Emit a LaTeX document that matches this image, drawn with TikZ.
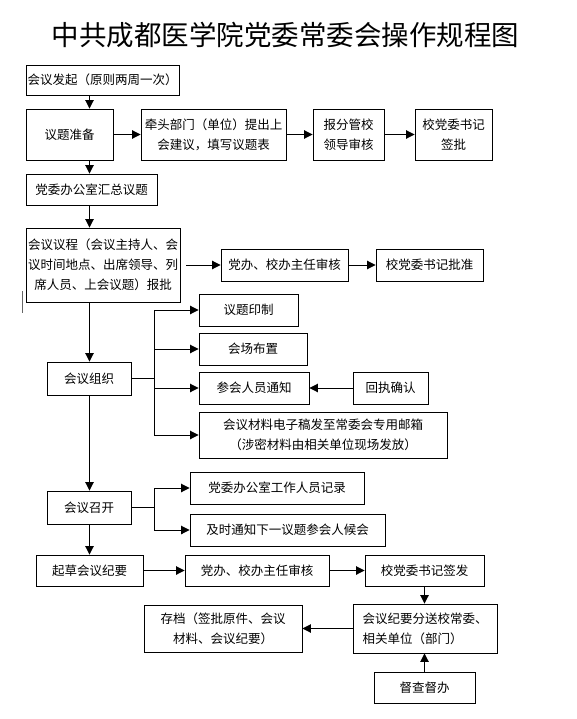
\documentclass[tikz,border=0pt]{standalone}
\usepackage{fontspec}
\setmainfont{Noto Sans CJK SC}
\newfontfamily\cjk{Noto Sans CJK SC}
\usetikzlibrary{arrows.meta}
\begin{document}
\begin{tikzpicture}[x=1pt,y=-1pt,
  box/.style={draw,line width=0.9pt,inner sep=0pt,align=center,
    font=\cjk\fontsize{12.5}{20}\selectfont},
  arr/.style={line width=0.9pt,-{Triangle[length=8.5pt,width=8.5pt]}},
  ln/.style={line width=0.9pt}]
\useasboundingbox (0,0) rectangle (577,719);
\node[font=\cjk\fontsize{27.5}{30}\selectfont] (title) at (285.5,35) {中共成都医学院党委常委会操作规程图};
\newcommand\bx[6]{\node[box,minimum width=#3,minimum height=#4,#6] (#1) at (#2) {#5};}
\bx{n1}{102.5,80}{153}{30}{会议发起（原则两周一次）}{}
\bx{n2}{69.5,134.5}{87}{51}{议题准备}{}
\bx{n3}{213.5,134.5}{145}{51}{牵头部门（单位）提出上\\会建议，填写议题表}{}
\bx{n4}{348.5,134.5}{71}{51}{报分管校\\领导审核}{}
\bx{n5}{453.5,134.5}{77}{51}{校党委书记\\签批}{}
\bx{n6}{91.5,189.5}{131}{31}{党委办公室汇总议题}{}
\bx{n7}{103,265}{154}{74}{会议议程（会议主持人、会\\议时间地点、出席领导、列\\席人员、上会议题）报批}{}
\bx{n8}{284.5,265}{127}{32}{党办、校办主任审核}{}
\bx{n9}{429.5,265}{107}{32}{校党委书记批准}{}
\bx{n10}{248.5,310}{99}{32}{议题印制}{}
\bx{n11}{253,349}{108}{32}{会场布置}{}
\bx{n12}{89,378.5}{84}{33}{会议组织}{}
\bx{n13}{254,388}{110}{32}{参会人员通知}{}
\bx{n14}{390.5,388}{75}{32}{回执确认}{}
\bx{n15}{323,435}{248}{46}{会议材料电子稿发至常委会专用邮箱\\（涉密材料由相关单位现场发放）}{}
\bx{n16}{89,507.5}{84}{33}{会议召开}{}
\bx{n17}{277,488}{174}{32}{党委办公室工作人员记录}{}
\bx{n18}{287.5,530}{195}{32}{及时通知下一议题参会人候会}{}
\bx{n19}{89.5,570.5}{107}{31}{起草会议纪要}{}
\bx{n20}{257,570.5}{144}{31}{党办、校办主任审核}{}
\bx{n21}{424.5,570.5}{119}{31}{校党委书记签发}{}
\bx{n22}{425,628.5}{144}{49}{会议纪要分送校常委、\\相关单位（部门）}{align=left}
\bx{n23}{223,628.5}{158}{47}{存档（签批原件、会议\\材料、会议纪要）}{}
\bx{n24}{424.5,687.5}{101}{31}{督查督办}{}
\coordinate (sp) at (89.5,0);
\coordinate (bk) at (154,0);
% spine
\draw[arr] (sp |- n1.south) -- (sp |- n2.north);
\draw[arr] (sp |- n2.south) -- (sp |- n6.north);
\draw[arr] (sp |- n6.south) -- (sp |- n7.north);
\draw[arr] (sp |- n7.south) -- (sp |- n12.north);
\draw[arr] (sp |- n12.south) -- (sp |- n16.north);
\draw[arr] (sp |- n16.south) -- (sp |- n19.north);
% row 2
\draw[arr] (n2.east) -- (n3.west);
\draw[arr] (n3.east) -- (n4.west);
\draw[arr] (n4.east) -- (n5.west);
% agenda
\draw[arr] ([xshift=6pt]n7.east) -- (n8.west);
\draw[arr] (n8.east) -- (n9.west);
% organisation bracket
\draw[ln] (n12.east) -- (bk |- n12.east);
\draw[ln] (bk |- n10.west) -- (bk |- n15.west);
\draw[arr] (bk |- n10.west) -- (n10.west);
\draw[arr] (bk |- n11.west) -- (n11.west);
\draw[arr] (bk |- n13.west) -- (n13.west);
\draw[arr] (bk |- n15.west) -- (n15.west);
\draw[arr] (n14.west) -- (n13.east);
% meeting bracket
\draw[ln] (n16.east) -- (bk |- n16.east);
\draw[ln] (bk |- n17.west) -- (bk |- n18.west);
\draw[arr] (bk |- n17.west) -- (n17.west);
\draw[arr] (bk |- n18.west) -- (n18.west);
% minutes
\draw[arr] (n19.east) -- (n20.west);
\draw[arr] (n20.east) -- (n21.west);
\draw[arr] (n21.south) -- (n21.south |- n22.north);
\draw[arr] (n22.west) -- (n23.east);
\draw[arr] (n24.north) -- (n24.north |- n22.south);
% stray mark
\draw[line width=0.6pt,black!60] (22,291) -- (22,313);
\end{tikzpicture}
\end{document}
